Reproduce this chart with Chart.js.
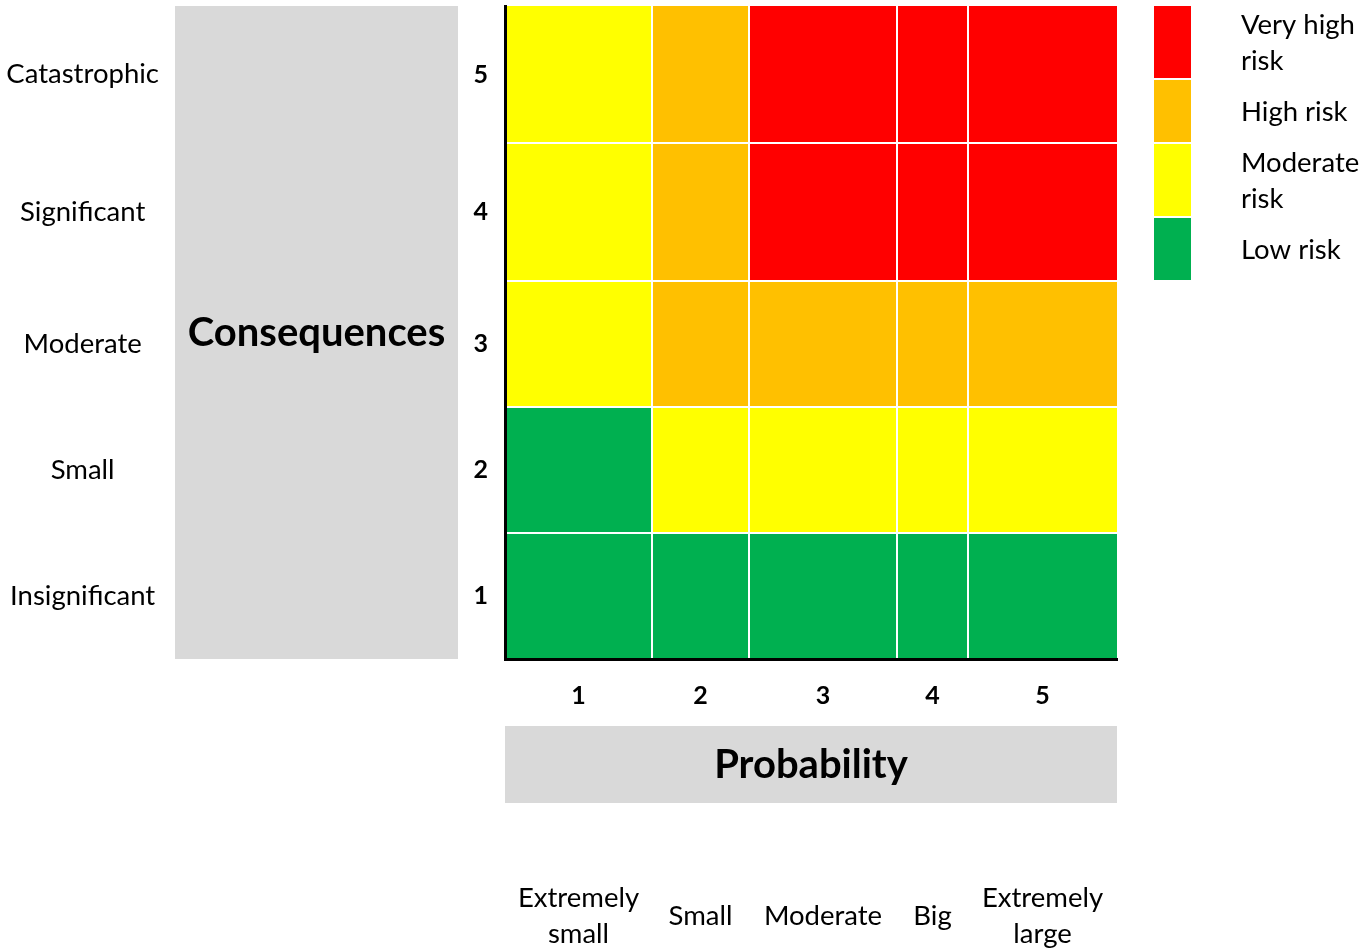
<!DOCTYPE html>
<html>
<head>
<meta charset="utf-8">
<title>Risk matrix</title>
<script src="https://cdn.jsdelivr.net/npm/chart.js@4.4.1/dist/chart.umd.min.js"></script>
<style>
  html, body { margin: 0; padding: 0; background: #ffffff; }
  canvas { display: block; }
</style>
</head>
<body>
<canvas id="matrix" width="1372" height="950"></canvas>
<script>
// ---- Data ---------------------------------------------------------------
const probabilityLevels = ['1', '2', '3', '4', '5'];
const probabilityNames = [['Extremely', 'small'], 'Small', 'Moderate', 'Big', ['Extremely', 'large']];
const consequenceLevels = ['1', '2', '3', '4', '5'];
const consequenceNames = ['Insignificant', 'Small', 'Moderate', 'Significant', 'Catastrophic'];

// Risk class of each cell, row = consequence 1..5, column = probability 1..5
// 0 = low, 1 = moderate, 2 = high, 3 = very high
const riskGrid = [
  [0, 0, 0, 0, 0],
  [0, 1, 1, 1, 1],
  [1, 2, 2, 2, 2],
  [1, 2, 3, 3, 3],
  [1, 2, 3, 3, 3]
];
const riskNames = ['Low risk', 'Moderate risk', 'High risk', 'Very high risk'];

// ---- Look ---------------------------------------------------------------
const riskColors = ['#00B050', '#FFFF00', '#FFC000', '#FF0000'];
const legendLines = [['Low risk'], ['Moderate', 'risk'], ['High risk'], ['Very high', 'risk']];
const bandGrey = '#D9D9D9';
const FONT = 'Lato';
const TEXT_SIZE = 27.5;
const TITLE_SIZE = 40;
const DIGIT_SIZE = 25;

// relative widths of the probability columns and heights of the consequence rows
const layout = {
  colSpan: [147, 97, 148, 71, 149],
  rowSpan: [126, 126, 126, 138, 137]
};

const edges = spans => spans.reduce((acc, s) => { acc.push(acc[acc.length - 1] + s); return acc; }, [0]);
const centers = spans => { const e = edges(spans); return spans.map((s, i) => e[i] + s / 2); };
const total = spans => spans.reduce((a, b) => a + b, 0);

Chart.defaults.font.family = FONT;
Chart.defaults.color = '#000000';

// coloured cells, placed on the x / y scales
const matrixCells = {
  id: 'matrixCells',
  beforeDatasetsDraw(chart) {
    const { ctx, scales: { x, y } } = chart;
    const xe = edges(layout.colSpan), ye = edges(layout.rowSpan);
    const gap = 1;
    ctx.save();
    riskGrid.forEach((row, r) => row.forEach((level, c) => {
      let x0 = x.getPixelForValue(xe[c]), x1 = x.getPixelForValue(xe[c + 1]);
      let y0 = y.getPixelForValue(ye[r + 1]), y1 = y.getPixelForValue(ye[r]);
      if (c > 0) x0 += gap;
      if (c < row.length - 1) x1 -= gap;
      if (r < riskGrid.length - 1) y0 += gap;
      if (r > 0) y1 -= gap;
      ctx.fillStyle = riskColors[level];
      ctx.fillRect(x0, y0, x1 - x0, y1 - y0);
    }));
    ctx.restore();
  }
};

// grey bands behind the two axis titles
const titleBands = {
  id: 'titleBands',
  beforeDraw(chart) {
    const { ctx, chartArea, scales: { yBand, xBand } } = chart;
    ctx.save();
    ctx.fillStyle = bandGrey;
    ctx.fillRect(yBand.left, chartArea.top, yBand.right - yBand.left, chartArea.bottom - chartArea.top);
    ctx.fillRect(chartArea.left, xBand.top, chartArea.right - chartArea.left, xBand.bottom - xBand.top);
    ctx.fillStyle = '#000000';
    ctx.font = `bold ${TITLE_SIZE}px ${FONT}`;
    ctx.textAlign = 'center';
    ctx.textBaseline = 'middle';
    ctx.fillText('Consequences', (yBand.left + yBand.right) / 2, (chartArea.top + chartArea.bottom) / 2 + 1);
    ctx.restore();
  }
};

// stacked colour-key to the right of the matrix, highest risk on top
const riskKey = {
  id: 'riskKey',
  afterDraw(chart) {
    const { ctx, chartArea } = chart;
    const lineH = 36, minBox = 62, gap = 2;
    const boxX = chartArea.right + 37, boxW = 37, textX = chartArea.right + 124;
    let top = chartArea.top;
    ctx.save();
    ctx.font = `${TEXT_SIZE}px ${FONT}`;
    ctx.textAlign = 'left';
    ctx.textBaseline = 'middle';
    for (let i = riskColors.length - 1; i >= 0; i--) {
      const lines = legendLines[i];
      const h = Math.max(minBox, lines.length * lineH);
      ctx.fillStyle = riskColors[i];
      ctx.fillRect(boxX, top, boxW, h);
      ctx.fillStyle = '#000000';
      const mid = top + h / 2 + 1;
      lines.forEach((t, k) => ctx.fillText(t, textX, mid + (k - (lines.length - 1) / 2) * lineH));
      top += h + gap;
    }
    ctx.restore();
  }
};

const noGrid = { display: false, drawTicks: false };
const xMax = total(layout.colSpan), yMax = total(layout.rowSpan);

function fixed(size, horizontal) {
  return scale => {
    if (horizontal) scale.height = size; else scale.width = size;
    scale.paddingLeft = scale.paddingRight = scale.paddingTop = scale.paddingBottom = 0;
  };
}

new Chart(document.getElementById('matrix'), {
  type: 'scatter',
  data: { datasets: [] },
  options: {
    responsive: false,
    animation: false,
    events: [],
    layout: { padding: { left: 0, top: 6, right: 255, bottom: 0 } },
    plugins: { legend: { display: false }, tooltip: { enabled: false } },
    scales: {
      x: {
        type: 'linear', position: 'bottom', weight: 0, min: 0, max: xMax,
        grid: noGrid,
        border: { display: true, color: '#000000', width: 3, z: 1 },
        afterBuildTicks: s => { s.ticks = centers(layout.colSpan).map(v => ({ value: v })); },
        ticks: { autoSkip: false, maxRotation: 0, padding: 22, font: { size: DIGIT_SIZE, weight: 'bold' },
                 callback: (v, i) => probabilityLevels[i] },
        afterFit: fixed(67, true)
      },
      xBand: {
        type: 'linear', position: 'bottom', weight: 1, min: 0, max: xMax,
        grid: noGrid, border: { display: false }, ticks: { display: false },
        title: { display: true, text: 'Probability', font: { size: TITLE_SIZE, weight: 'bold' }, padding: { top: 0, bottom: 14 } },
        afterFit: fixed(77, true)
      },
      xName: {
        type: 'linear', position: 'bottom', weight: 2, min: 0, max: xMax,
        grid: noGrid, border: { display: false },
        afterBuildTicks: s => { s.ticks = centers(layout.colSpan).map(v => ({ value: v })); },
        ticks: { autoSkip: false, maxRotation: 0, padding: 95, crossAlign: 'center',
                 font: { size: TEXT_SIZE, lineHeight: 36 / TEXT_SIZE },
                 callback: (v, i) => probabilityNames[i] },
        afterFit: fixed(147, true)
      },
      y: {
        type: 'linear', position: 'left', weight: 0, min: 0, max: yMax,
        grid: noGrid,
        border: { display: true, color: '#000000', width: 3, z: 1 },
        afterBuildTicks: s => { s.ticks = centers(layout.rowSpan).map(v => ({ value: v })); },
        ticks: { autoSkip: false, padding: 17, font: { size: DIGIT_SIZE, weight: 'bold' },
                 callback: (v, i) => consequenceLevels[i] },
        afterFit: fixed(47, false)
      },
      yBand: {
        type: 'linear', position: 'left', weight: 1, min: 0, max: yMax,
        grid: noGrid, border: { display: false }, ticks: { display: false },
        afterFit: fixed(283, false)
      },
      yName: {
        type: 'linear', position: 'left', weight: 2, min: 0, max: yMax,
        grid: noGrid, border: { display: false },
        afterBuildTicks: s => { s.ticks = centers(layout.rowSpan).map(v => ({ value: v })); },
        ticks: { autoSkip: false, padding: 16, crossAlign: 'center', font: { size: TEXT_SIZE },
                 callback: (v, i) => consequenceNames[i] },
        afterFit: fixed(175, false)
      }
    }
  },
  plugins: [titleBands, matrixCells, riskKey]
});
</script>
</body>
</html>
